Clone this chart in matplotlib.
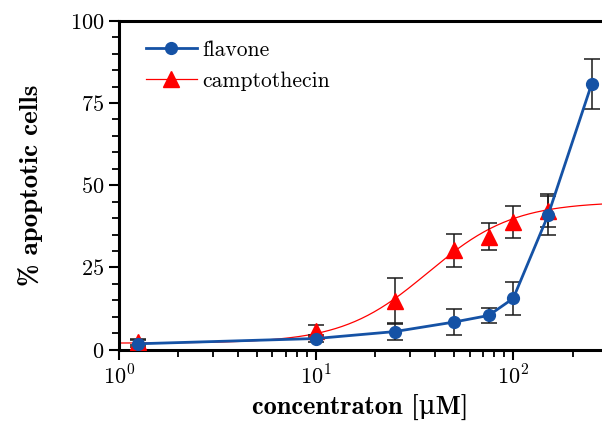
import numpy as np
import matplotlib
matplotlib.use("Agg")
import matplotlib.pyplot as plt
from matplotlib.lines import Line2D

plt.rcParams['mathtext.fontset'] = 'cm'

# ---- data ----
flavone_conc = [1.25, 10, 25, 50, 75, 100, 150, 250]
flavone_pct = [1.8, 3.4, 5.5, 8.4, 10.4, 15.6, 40.8, 80.8]
flavone_err = [1.0, 1.0, 2.6, 4.0, 2.3, 5.1, 6.0, 7.7]

campto_conc = [1.25, 10, 25, 50, 75, 100, 150]
campto_pct = [2.3, 5.8, 14.8, 30.2, 34.4, 38.8, 42.3]
campto_err = [1.0, 1.8, 6.9, 5.0, 4.0, 5.0, 5.0]

# fitted sigmoid (4-parameter logistic) parameters for camptothecin
fit_bottom = 2.0
fit_top = 45.0
fit_ec50 = 37.0
fit_hill = 2.0

yticks = [0, 25, 50, 75, 100]
xticks = [1, 10, 100]
xticklabels = [r'$10^{0}$', r'$10^{1}$', r'$10^{2}$']
legend_labels = ['flavone', 'camptothecin']

blue = '#1552A5'
red = '#FF0000'

fig = plt.figure(figsize=(6.02, 4.21), dpi=100)
ax = fig.add_axes([119/602, 71.3/421, 1 - 119/602, (350 - 21)/421])

ax.set_xscale('log')
ax.set_xlim(1, 282)
ax.set_ylim(0, 100)

# camptothecin fit curve
xc = np.logspace(0, np.log10(282), 300)
yc = fit_bottom + (fit_top - fit_bottom) / (1 + (fit_ec50 / xc) ** fit_hill)
ax.plot(xc, yc, color=red, lw=0.9, zorder=2)

# error bars
ax.errorbar(campto_conc, campto_pct, yerr=campto_err, fmt='none',
            ecolor='#1a1a1a', elinewidth=1.1, capsize=5.5, capthick=1.1, zorder=3)
ax.errorbar(flavone_conc, flavone_pct, yerr=flavone_err, fmt='none',
            ecolor='#1a1a1a', elinewidth=1.1, capsize=5.5, capthick=1.1, zorder=3)

ax.plot(campto_conc, campto_pct, linestyle='none', marker='^', ms=11,
        color=red, mec=red, zorder=4)
ax.plot(flavone_conc, flavone_pct, color=blue, lw=2.0, marker='o', ms=8.5,
        mec=blue, zorder=5)

# axes styling
for s in ['left', 'bottom', 'top']:
    ax.spines[s].set_linewidth(2.2)
ax.spines['right'].set_visible(False)

ax.set_yticks(yticks)
ax.set_yticklabels([r'$%d$' % v for v in yticks])
ax.set_yticks(np.arange(0, 101, 5), minor=True)
ax.set_xticks(xticks)
ax.set_xticklabels(xticklabels)
ax.xaxis.set_minor_locator(matplotlib.ticker.LogLocator(base=10, subs=np.arange(2, 10)))
ax.xaxis.set_minor_formatter(matplotlib.ticker.NullFormatter())

ax.tick_params(axis='both', which='major', direction='out', length=7,
               width=1.5, labelsize=16, pad=3.5)
ax.tick_params(axis='both', which='minor', direction='out', length=5, width=1.3)
ax.tick_params(top=False, right=False, which='both')

ax.set_xlabel('concentraton [μM]', family=['cmb10', 'DejaVu Serif'],
              fontsize=19)
ax.set_ylabel('% apoptotic cells', family=['cmb10', 'DejaVu Serif'],
              fontsize=19.5)
ax.xaxis.set_label_coords(0.5, -(395 - 350) / 329)
ax.yaxis.set_label_coords((43 - 119) / 483, 0.5)

handles = [
    Line2D([], [], color=blue, lw=2.0, marker='o', ms=8.5),
    Line2D([], [], color=red, lw=0.9, marker='^', ms=11),
]
leg = ax.legend(handles, legend_labels, loc='upper left',
                bbox_to_anchor=(0.016, 1.0), frameon=False,
                prop={'family': 'cmr10', 'size': 15.5}, handlelength=2.35,
                handletextpad=0.25, labelspacing=0.55)

fig.savefig('out.png', dpi=100)
